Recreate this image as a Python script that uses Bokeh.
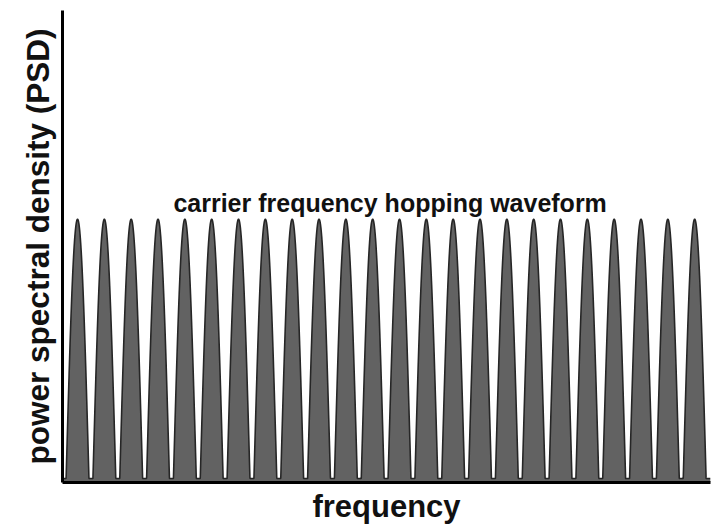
import numpy as np
from bokeh.plotting import figure
from bokeh.models import Range1d, FixedTicker, Label
from bokeh.embed import file_html
from bokeh.resources import INLINE

# --- data ---
hop_channels = [0, 1, 2, 3, 4, 5, 6, 7, 8, 9, 10, 11,
                12, 13, 14, 15, 16, 17, 18, 19, 20, 21, 22, 23]
hop_power = [1.0, 1.0, 1.0, 1.0, 1.0, 1.0, 1.0, 1.0, 1.0, 1.0, 1.0, 1.0,
             1.0, 1.0, 1.0, 1.0, 1.0, 1.0, 1.0, 1.0, 1.0, 1.0, 1.0, 1.0]
noise_floor = 0.015
lobe_halfwidth = 0.43  # in channel spacings
title_text = "carrier frequency hopping waveform"
x_label = "frequency"
y_label = "power spectral density (PSD)"

x_start, x_end = -0.56, 23.59

# spectrum built from the hop channels (one main lobe per channel)
fx = np.linspace(x_start, x_end, 6000)
fy = np.full_like(fx, noise_floor)
for c, pw in zip(hop_channels, hop_power):
    d = np.abs(fx - c)
    lobe = np.where(d < lobe_halfwidth, pw * np.cos(np.pi / 2 * d / lobe_halfwidth), 0.0)
    fy = np.maximum(fy, lobe)

p = figure(width=713, height=526, output_backend="svg", toolbar_location=None,
           x_range=Range1d(x_start, x_end), y_range=Range1d(0, 1.793),
           min_border_left=62, min_border_right=3, min_border_top=10,
           min_border_bottom=39)
p.outline_line_color = None
p.xgrid.visible = False
p.ygrid.visible = False
p.background_fill_color = "white"

p.varea(x=fx, y1=0, y2=fy, fill_color="#626262")
p.line(x=fx, y=fy, line_color="#262626", line_width=1.6)

for ax in (p.xaxis[0], p.yaxis[0]):
    ax.ticker = FixedTicker(ticks=[])
    ax.axis_line_width = 3
    ax.axis_line_color = "black"
    ax.major_tick_line_color = None
    ax.minor_tick_line_color = None
    ax.major_label_text_font_size = "0px"
    ax.axis_label_text_font = "Liberation Sans"
    ax.axis_label_text_font_style = "bold"
    ax.axis_label_text_color = "#111111"

p.xaxis.axis_label = x_label
p.xaxis.axis_label_text_font_size = "31px"
p.xaxis.axis_label_standoff = 6
p.yaxis.axis_label = y_label
p.yaxis.axis_label_text_font_size = "31.5px"
p.yaxis.axis_label_standoff = 7

p.add_layout(Label(x=11.65, y=1.06, text=title_text, text_align="center",
                   text_baseline="alphabetic", text_font="Liberation Sans",
                   text_font_style="bold", text_font_size="25px",
                   text_color="#111111"))

open("out.html", "w").write(file_html(p, INLINE))
